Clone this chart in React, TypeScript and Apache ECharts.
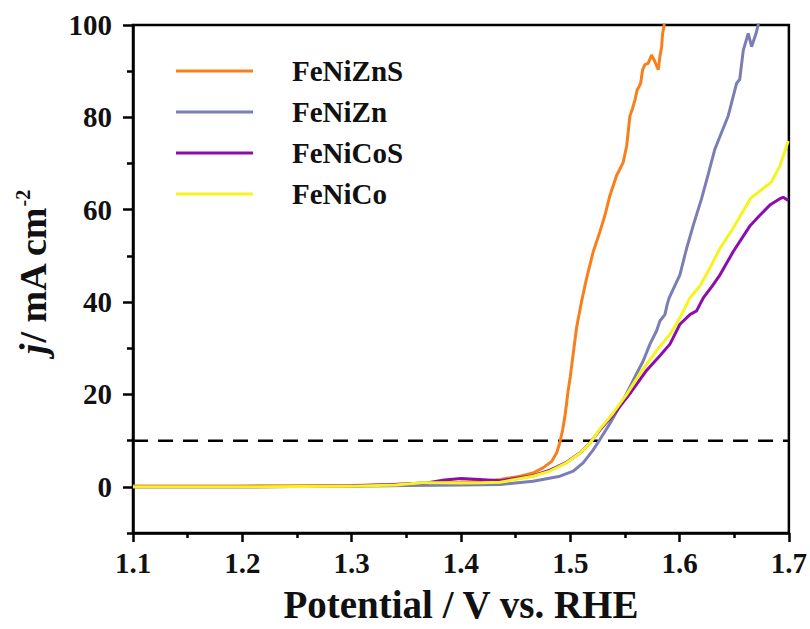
import React, { useEffect, useRef } from "react";
import * as echarts from "echarts";

const seriesNames = ["FeNiZnS", "FeNiZn", "FeNiCoS", "FeNiCo"];
const seriesColors = ["#F7801C", "#7B7DB6", "#8C0CAE", "#F4F420"];

const feNiZnS: [number, number][] = [
  [1.10, 0.2], [1.20, 0.2], [1.30, 0.3], [1.35, 0.6], [1.38, 0.9], [1.40, 1.0], [1.42, 1.2],
  [1.436, 1.6], [1.454, 2.3], [1.466, 3.0], [1.475, 4.1], [1.483, 5.5], [1.4875, 7.3],
  [1.4906, 9.7], [1.493, 12.3], [1.4951, 15.2], [1.4966, 18], [1.4981, 20.9], [1.5, 23.8],
  [1.5027, 28.8], [1.5058, 34.5], [1.5104, 40.2], [1.515, 45.2], [1.521, 50.9], [1.5271, 55.2],
  [1.5317, 58.8], [1.5363, 63.1], [1.5393, 65.2], [1.5424, 67.4], [1.5454, 68.8], [1.5485, 70.3],
  [1.5516, 73.8], [1.5546, 80.3], [1.5567, 81.7], [1.5592, 83.8], [1.5613, 86], [1.5631, 86.7],
  [1.5644, 87.4], [1.5662, 90.3], [1.5683, 91.4], [1.5713, 91.7], [1.5744, 93.5], [1.5774, 92.1],
  [1.5805, 90.3], [1.582, 93.1], [1.5836, 95.3], [1.5845, 98.2], [1.5857, 99.6], [1.587, 103],
];

const feNiZn: [number, number][] = [
  [1.10, 0.0], [1.20, 0.0], [1.30, 0.1], [1.35, 0.3], [1.40, 0.4], [1.436, 0.5], [1.466, 1.2],
  [1.4906, 2.3], [1.5027, 3.4], [1.5118, 5.2], [1.521, 8], [1.527, 10.2], [1.5363, 13.7],
  [1.5485, 18.8], [1.5607, 24.5], [1.5668, 27.3], [1.5729, 30.9], [1.579, 33.8], [1.582, 35.9],
  [1.5866, 37.3], [1.5887, 39.5], [1.5905, 40.9], [1.6003, 45.9], [1.6064, 51.6], [1.613, 57],
  [1.62, 62.3], [1.626, 67.5], [1.6323, 73.1], [1.638, 76.5], [1.6445, 80.3], [1.6522, 87.4],
  [1.655, 88.2], [1.6583, 94.5], [1.6628, 98.2], [1.6659, 95.3], [1.67, 98.2], [1.6719, 100],
  [1.673, 103],
];

const feNiCoS: [number, number][] = [
  [1.10, 0.0], [1.20, 0.0], [1.30, 0.2], [1.34, 0.5], [1.37, 0.9], [1.385, 1.5], [1.40, 1.8],
  [1.417, 1.6], [1.436, 1.3], [1.4661, 2.4], [1.4814, 3.6], [1.4966, 5.3], [1.5088, 7.3],
  [1.518, 9.5], [1.5271, 12.3], [1.5393, 15.6], [1.5546, 20.2], [1.5698, 25.2], [1.582, 28.4],
  [1.5912, 30.9], [1.5942, 32.3], [1.6003, 35.2], [1.6095, 37.3], [1.6156, 38.1], [1.6186, 39.5],
  [1.6217, 40.9], [1.63, 43.5], [1.637, 45.9], [1.649, 50.9], [1.6647, 56.6], [1.6735, 58.8],
  [1.6826, 61], [1.6918, 62.4], [1.6948, 62.7], [1.6994, 62],
];

const feNiCo: [number, number][] = [
  [1.10, 0.0], [1.20, 0.0], [1.30, 0.1], [1.34, 0.4], [1.365, 0.9], [1.38, 0.9], [1.40, 0.8],
  [1.42, 0.9], [1.436, 1.0], [1.4661, 2.3], [1.4814, 3.4], [1.4966, 5.2], [1.5088, 7.3],
  [1.518, 9.4], [1.5271, 12.5], [1.5393, 16], [1.5454, 18], [1.5516, 20], [1.5637, 24.5],
  [1.579, 29.5], [1.5912, 33], [1.6003, 36.6], [1.6095, 40.9], [1.6186, 43.5], [1.6278, 47.4],
  [1.6369, 51.6], [1.649, 56], [1.6647, 62.4], [1.6796, 65.2], [1.684, 66], [1.6918, 69.5],
  [1.6994, 74.9],
];

const referenceLevel: [number, number][] = [[1.1, 10], [1.7, 10]];

const yLabelValues = [0, 20, 40, 60, 80, 100];
const yMinorValues = [-10, 10, 30, 50, 70, 90];

const FONT = "'Liberation Serif', 'Times New Roman', serif";

export default function App() {
  const ref = useRef<HTMLDivElement>(null);
  useEffect(() => {
    if (!ref.current) return;
    const chart = echarts.init(ref.current, undefined, { renderer: "svg" });
    const allData = [feNiZnS, feNiZn, feNiCoS, feNiCo];
    chart.setOption({
      animation: false,
      backgroundColor: "#fff",
      grid: {
        left: 133, right: 21, top: 25, bottom: 91,
        show: true, borderColor: "#000", borderWidth: 2.5, backgroundColor: "transparent",
      },
      legend: {
        data: seriesNames,
        orient: "vertical",
        left: 176,
        top: 56,
        padding: 0,
        icon: "rect",
        itemWidth: 77,
        itemHeight: 3,
        itemGap: 11,
        textStyle: {
          fontFamily: FONT, fontWeight: "bold", fontSize: 29, color: "#111",
          lineHeight: 30, padding: [0, 0, 0, 34],
        },
      },
      xAxis: {
        type: "value",
        min: 1.1, max: 1.7, interval: 0.1,
        axisLine: { show: true, onZero: false, lineStyle: { color: "#000", width: 2.5 } },
        axisTick: { show: true, inside: false, length: 9, lineStyle: { color: "#000", width: 2.5 } },
        minorTick: { show: true, splitNumber: 2, length: 5, lineStyle: { color: "#000", width: 2.5 } },
        splitLine: { show: false },
        minorSplitLine: { show: false },
        axisLabel: {
          formatter: (v: number) => v.toFixed(1),
          fontFamily: FONT, fontWeight: "bold", fontSize: 29, color: "#111", margin: 15,
        },
        name: "Potential / V vs. RHE",
        nameLocation: "middle",
        nameGap: 52,
        nameTextStyle: { fontFamily: FONT, fontWeight: "bold", fontSize: 39, color: "#111" },
      },
      yAxis: [
        {
          type: "value",
          min: -10, max: 100,
          position: "left",
          axisLine: { show: true, onZero: false, lineStyle: { color: "#000", width: 2.5 } },
          axisTick: { show: true, inside: false, length: 10, customValues: yLabelValues, lineStyle: { color: "#000", width: 2.5 } },
          splitLine: { show: false },
          axisLabel: {
            customValues: yLabelValues,
            fontFamily: FONT, fontWeight: "bold", fontSize: 29, color: "#111", margin: 21,
          },
        },
        {
          type: "value",
          min: -10, max: 100,
          position: "left",
          axisLine: { show: false, onZero: false },
          axisTick: { show: true, inside: false, length: 6, customValues: yMinorValues, lineStyle: { color: "#000", width: 2.5 } },
          splitLine: { show: false },
          axisLabel: { show: false },
        },
      ],
      graphic: [
        {
          type: "text",
          x: 33,
          y: 272,
          rotation: Math.PI / 2,
          style: {
            text: "{i|j}{n|/ mA cm}{s|-2}",
            align: "center",
            verticalAlign: "middle",
            fill: "#111",
            rich: {
              i: { fontFamily: FONT, fontWeight: "bold", fontStyle: "italic", fontSize: 38, lineHeight: 40, fill: "#111" },
              n: { fontFamily: FONT, fontWeight: "bold", fontSize: 38, lineHeight: 40, fill: "#111" },
              s: { fontFamily: FONT, fontWeight: "bold", fontSize: 20, lineHeight: 20, verticalAlign: "top", fill: "#111" },
            },
          },
        },
      ],
      series: [
        ...seriesNames.map((name, i) => ({
          name,
          type: "line",
          data: allData[i],
          symbol: "none",
          showSymbol: false,
          clip: true,
          color: seriesColors[i],
          lineStyle: { color: seriesColors[i], width: 3 },
          z: 3,
        })),
        {
          name: "ref",
          type: "line",
          data: referenceLevel,
          symbol: "none",
          silent: true,
          lineStyle: { color: "#000", width: 2.5, type: [15, 10] },
          z: 2,
        },
      ],
    });
    return () => chart.dispose();
  }, []);
  return <div ref={ref} style={{ position: "absolute", left: 0, top: 0, width: 810, height: 629 }} />;
}
